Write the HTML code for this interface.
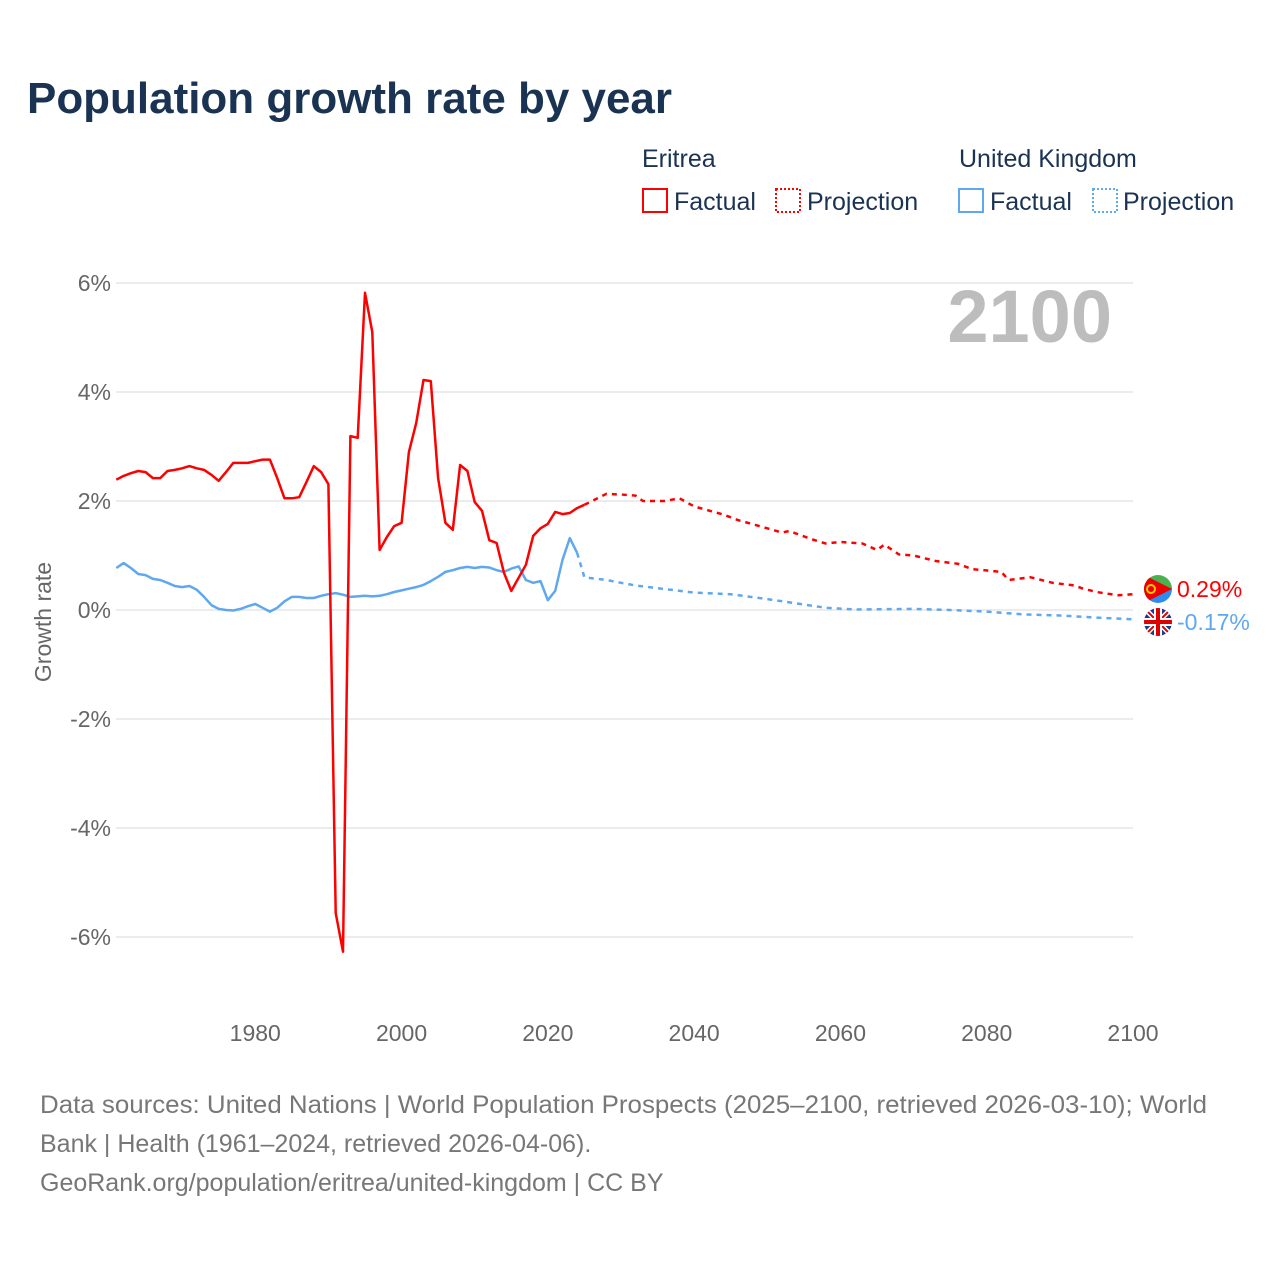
<!DOCTYPE html>
<html><head><meta charset="utf-8">
<style>
body{margin:0;background:#fff;font-family:"Liberation Sans",sans-serif;}
svg text{font-family:"Liberation Sans",sans-serif;}
</style></head>
<body>
<svg id="chart" width="1280" height="1280" viewBox="0 0 1280 1280" xmlns="http://www.w3.org/2000/svg">
<rect width="1280" height="1280" fill="#fff"/>
<text x="27" y="113" font-size="44" font-weight="bold" fill="#1b3353" textLength="645" lengthAdjust="spacingAndGlyphs">Population growth rate by year</text>
<g font-size="25" fill="#1b3353">
<text x="642" y="167">Eritrea</text>
<rect x="643" y="189" width="24" height="23" fill="none" stroke="#f00" stroke-width="2"/>
<text x="674" y="210">Factual</text>
<rect x="776" y="189" width="24" height="23" fill="none" stroke="#f00" stroke-width="2" stroke-dasharray="2,2"/>
<text x="807" y="210">Projection</text>
<text x="959" y="167">United Kingdom</text>
<rect x="959" y="189" width="24" height="23" fill="none" stroke="#5fa8ef" stroke-width="2"/>
<text x="990" y="210">Factual</text>
<rect x="1093" y="189" width="24" height="23" fill="none" stroke="#5fa8ef" stroke-width="2" stroke-dasharray="2,2"/>
<text x="1123" y="210">Projection</text>
</g>
<g id="grid"></g>
<text x="1112" y="342" text-anchor="end" font-size="74" font-weight="bold" fill="#bdbdbd">2100</text>
<text transform="translate(51,622) rotate(-90)" text-anchor="middle" font-size="23" fill="#666">Growth rate</text>
<g id="series"></g>
<g>
<clipPath id="cE"><circle cx="1158" cy="589" r="14"/></clipPath>
<g clip-path="url(#cE)"><rect x="1144" y="575" width="28" height="14" fill="#4caf50"/><rect x="1144" y="589" width="28" height="14" fill="#2e8bf0"/><polygon points="1144,575 1172,589 1144,603" fill="#e00"/><circle cx="1151" cy="589" r="4" fill="none" stroke="#fc0" stroke-width="2"/></g>
</g>
<g>
<clipPath id="cU"><circle cx="1158" cy="622" r="14"/></clipPath>
<g clip-path="url(#cU)"><rect x="1144" y="608" width="28" height="28" fill="#1f3a8a"/><path d="M1144 608L1172 636M1172 608L1144 636" stroke="#fff" stroke-width="5"/><path d="M1144 608L1172 636M1172 608L1144 636" stroke="#d00" stroke-width="2"/><path d="M1158 608V636M1144 622H1172" stroke="#fff" stroke-width="8"/><path d="M1158 608V636M1144 622H1172" stroke="#d00" stroke-width="4"/></g>
</g>
<text x="1177" y="597" font-size="23" fill="#f00">0.29%</text>
<text x="1177" y="630" font-size="23" fill="#5fa8ef">-0.17%</text>
<g font-size="25" fill="#777">
<text x="40" y="1113" textLength="1167" lengthAdjust="spacingAndGlyphs">Data sources: United Nations | World Population Prospects (2025–2100, retrieved 2026-03-10); World</text>
<text x="40" y="1152">Bank | Health (1961–2024, retrieved 2026-04-06).</text>
<text x="40" y="1191">GeoRank.org/population/eritrea/united-kingdom | CC BY</text>
</g>
</svg>
<script>
const yTicks=[6,4,2,0,-2,-4,-6];
const xTicks=[1980,2000,2020,2040,2060,2080,2100];
const eriFactYears=[1961,1962,1963,1964,1965,1966,1967,1968,1969,1970,1971,1972,1973,1974,1975,1976,1977,1978,1979,1980,1981,1982,1983,1984,1985,1986,1987,1988,1989,1990,1991,1992,1993,1994,1995,1996,1997,1998,1999,2000,2001,2002,2003,2004,2005,2006,2007,2008,2009,2010,2011,2012,2013,2014,2015,2016,2017,2018,2019,2020,2021,2022,2023,2024,2025];
const eriFact=[2.39,2.46,2.51,2.55,2.53,2.42,2.42,2.55,2.57,2.6,2.64,2.6,2.57,2.48,2.37,2.53,2.7,2.7,2.7,2.73,2.76,2.76,2.42,2.05,2.05,2.07,2.35,2.64,2.53,2.31,-5.56,-6.27,3.19,3.16,5.82,5.1,1.1,1.34,1.54,1.6,2.9,3.43,4.22,4.2,2.42,1.6,1.47,2.66,2.55,1.98,1.82,1.28,1.23,0.68,0.35,0.59,0.83,1.36,1.5,1.58,1.8,1.76,1.78,1.87,1.93];
const eriProjYears=[2025,2028,2030,2032,2033,2036,2038,2040,2044,2046,2050,2052,2053,2056,2058,2060,2063,2065,2066,2068,2070,2073,2076,2078,2082,2083,2086,2089,2092,2093,2095,2098,2100];
const eriProj=[1.93,2.13,2.12,2.1,2.0,2.0,2.05,1.9,1.75,1.65,1.5,1.42,1.45,1.3,1.22,1.25,1.22,1.1,1.2,1.02,1.0,0.9,0.85,0.75,0.7,0.55,0.6,0.5,0.45,0.4,0.33,0.27,0.29];
const ukFactYears=[1961,1962,1963,1964,1965,1966,1967,1968,1969,1970,1971,1972,1973,1974,1975,1976,1977,1978,1979,1980,1981,1982,1983,1984,1985,1986,1987,1988,1989,1990,1991,1992,1993,1994,1995,1996,1997,1998,1999,2000,2001,2002,2003,2004,2005,2006,2007,2008,2009,2010,2011,2012,2013,2014,2015,2016,2017,2018,2019,2020,2021,2022,2023,2024];
const ukFact=[0.77,0.86,0.77,0.66,0.64,0.57,0.55,0.5,0.44,0.42,0.44,0.37,0.24,0.09,0.02,0.0,-0.01,0.02,0.07,0.11,0.04,-0.03,0.04,0.16,0.24,0.24,0.22,0.22,0.26,0.29,0.31,0.28,0.24,0.25,0.26,0.25,0.26,0.29,0.33,0.36,0.39,0.42,0.46,0.53,0.61,0.7,0.73,0.77,0.79,0.77,0.79,0.78,0.73,0.7,0.76,0.8,0.55,0.5,0.53,0.18,0.35,0.92,1.32,1.05];
const ukProjYears=[2024,2025,2028,2030,2032,2035,2040,2045,2050,2055,2058,2062,2070,2075,2080,2085,2090,2095,2100];
const ukProj=[1.05,0.6,0.55,0.5,0.45,0.4,0.32,0.29,0.2,0.1,0.04,0.01,0.02,0.0,-0.03,-0.08,-0.1,-0.14,-0.17];

const NS='http://www.w3.org/2000/svg';
const xS=y=>116.3+(y-1961)*(1133-116.3)/(2100-1961);
const yS=v=>610-v*54.5;
const grid=document.getElementById('grid');
for(const t of yTicks){
  const l=document.createElementNS(NS,'line');
  l.setAttribute('x1',116);l.setAttribute('x2',1133);l.setAttribute('y1',yS(t));l.setAttribute('y2',yS(t));
  l.setAttribute('stroke','#e6e6e6');l.setAttribute('stroke-width','1.5');
  
  
  grid.appendChild(l);
  const tx=document.createElementNS(NS,'text');
  tx.setAttribute('x',111);tx.setAttribute('y',yS(t)+8);tx.setAttribute('text-anchor','end');
  tx.setAttribute('font-size','23');tx.setAttribute('fill','#666');
  tx.textContent=t+'%';
  
  
  grid.appendChild(tx);
}
for(const t of xTicks){
  const tx=document.createElementNS(NS,'text');
  tx.setAttribute('x',xS(t));tx.setAttribute('y',1041);tx.setAttribute('text-anchor','middle');
  tx.setAttribute('font-size','23');tx.setAttribute('fill','#666');
  tx.textContent=t;
  
  
  grid.appendChild(tx);
}
const ser=document.getElementById('series');
function line(xs,vs,color,dash,name){
  const p=document.createElementNS(NS,'path');
  p.setAttribute('d',xs.map((y,i)=>(i?'L':'M')+xS(y).toFixed(1)+' '+yS(vs[i]).toFixed(1)).join(''));
  p.setAttribute('fill','none');p.setAttribute('stroke',color);p.setAttribute('stroke-width','2.5');
  p.setAttribute('stroke-linejoin','round');
  if(dash)p.setAttribute('stroke-dasharray','5,5');
  
  
  ser.appendChild(p);
}
line(ukFactYears,ukFact,'#5fa8ef',false,'uk-factual-line');
line(ukProjYears,ukProj,'#5fa8ef',true,'uk-projection-line');
line(eriFactYears,eriFact,'#f00',false,'eritrea-factual-line');
line(eriProjYears,eriProj,'#f00',true,'eritrea-projection-line');
</script>
</body></html>
